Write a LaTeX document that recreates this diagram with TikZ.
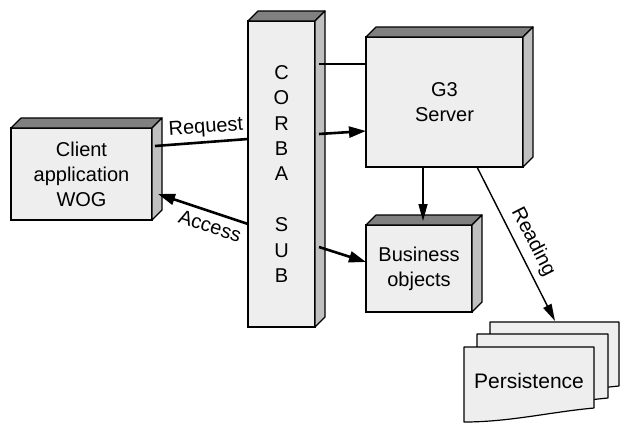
\documentclass[tikz,border=0pt]{standalone}
\usepackage{fontspec}
\setmainfont{Liberation Sans}
\usetikzlibrary{arrows.meta,calc}
\definecolor{facegray}{RGB}{238,238,238}
\definecolor{topgray}{RGB}{128,128,128}
\definecolor{sidegray}{RGB}{192,192,192}
\begin{document}
\begin{tikzpicture}[x=1pt,y=-1pt,
  box/.style={draw, line width=1.2pt, fill=facegray, outer sep=0pt, inner sep=0pt, align=center, font=\fontsize{20}{25}\selectfont},
  face/.style={draw, line width=1.2pt, line join=round},
  sheet/.style={draw, line width=1.2pt, fill=facegray, line join=round},
  lbl/.style={font=\fontsize{20}{25}\selectfont, inner sep=0pt},
  bigline/.style={line width=2.6pt},
  thinline/.style={line width=1.4pt},
  tip/.style={-{Triangle[length=17pt,width=11pt]}},
  thintip/.style={-{Triangle[length=17pt,width=9pt]}},
]
\useasboundingbox (0,0) rectangle (620,423);
% 3D boxes (front faces)
\node[box, minimum width=141pt, minimum height=92pt] (client) at (81.5,174) {Client\\application\\WOG};
\node[box, minimum width=67pt, minimum height=306pt, font=\fontsize{20}{25.4}\selectfont] (corba) at (281.5,174) {C\\O\\R\\B\\A\\[25.4pt]S\\U\\B};
\node[box, minimum width=157pt, minimum height=130pt] (g3) at (444.5,102) {G3\\Server};
\node[box, minimum width=106pt, minimum height=87pt] (business) at (419,268.5) {Business\\objects};
% top and side faces
\foreach \n in {client,corba,g3,business}{
  \path[face, fill=topgray] (\n.north west) -- ++(10,-10) -- ($(\n.north east)+(10,-10)$) -- (\n.north east) -- cycle;
  \path[face, fill=sidegray] (\n.north east) -- ++(10,-10) -- ($(\n.south east)+(10,-10)$) -- (\n.south east) -- cycle;
}
% persistence stack
\path[sheet] (490,322) -- (619,322) -- (619,386) .. controls (575,390) and (536,400) .. (490,400) -- cycle;
\path[sheet] (477,334) -- (608,334) -- (608,398) .. controls (564,402) and (523,412) .. (477,412) -- cycle;
\path[sheet] (464,347) -- (594,347) -- (594,408) .. controls (550,412) and (510,422) .. (464,422) -- cycle;
\node[lbl, font=\fontsize{21}{25}\selectfont] (persist) at (529,381) {Persistence};
\coordinate (persisttop) at (555,321);
% connectors
\draw[bigline] ($(client.north east)+(3,18)$) -- ($(corba.north west)+(0,118)$);
\draw[bigline, tip] ($(corba.north west)+(0,203)$) -- ($(client.north east)+(6,66)$);
\draw[bigline] ($(corba.north east)+(4,43)$) -- ($(g3.north west)+(0,27)$);
\draw[bigline, tip] ($(corba.north east)+(4,113)$) -- ($(g3.north west)+(0,94)$);
\draw[bigline, tip] ($(corba.north east)+(4,226)$) -- ($(business.north west)+(0,37)$);
\draw[thinline, thintip] ($(g3.south west)+(57,0)$) -- ($(business.north west)+(57,-4)$);
\draw[thinline, thintip] ($(g3.south west)+(111,0)$) -- (persisttop);
% labels
\node[lbl, rotate=4] (lreq) at (206,128) {Request};
\node[lbl, rotate=-18] (lacc) at (210,226) {Access};
\node[lbl, rotate=-63] (lread) at (533,242) {Reading};
\end{tikzpicture}
\end{document}
